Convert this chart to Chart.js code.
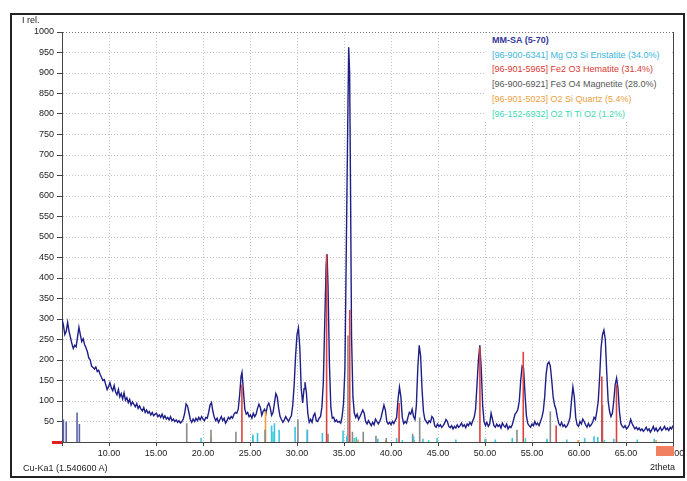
<!DOCTYPE html>
<html>
<head>
<meta charset="utf-8">
<script src="https://cdn.jsdelivr.net/npm/chart.js@4"></script>
<style>
  body { margin: 0; background: #fff; font-family: "Liberation Sans", Arial, sans-serif; }
  #wrap { position: relative; width: 687px; height: 481px; }
  #frame { position: absolute; left: 10px; top: 13px; width: 671px; height: 461px; border: 2px solid #222; }
  canvas { position: absolute; left: 0; top: 0; }
  .lbl { position: absolute; font-size: 9px; color: #222; white-space: nowrap; line-height: 10px; }
  #legend { position: absolute; left: 484px; top: 33px; width: 186px; height: 88px; background: #fff; }
  #legend div { position: absolute; left: 8px; font-size: 9px; line-height: 10px; white-space: nowrap; }
</style>
</head>
<body>
<div id="wrap">
  <div id="frame"></div>
  <canvas id="xrd" width="687" height="481"></canvas>
  <div class="lbl" style="left:22px;top:15px">I rel.</div>
  <div class="lbl" style="left:23px;top:463px">Cu-Ka1 (1.540600 A)</div>
  <div class="lbl" style="left:650px;top:462px">2theta</div>
  <div id="legend"></div>
</div>
<script>
// measured pattern MM-SA, [2theta, counts]
var pattern = [
 [5.00,300],[5.15,285],[5.30,262],[5.45,270],[5.60,292],[5.75,270],[5.90,255],[6.05,240],[6.20,228],[6.35,236],
 [6.50,232],[6.65,255],[6.80,280],[6.95,262],[7.10,245],[7.25,252],[7.40,238],[7.55,230],[7.70,220],[7.85,205],
 [8.00,200],[8.15,185],[8.30,182],[8.45,178],[8.60,183],[8.75,172],[8.90,175],[9.05,165],[9.20,158],[9.35,150],
 [9.50,152],[9.65,140],[9.80,128],[9.95,135],[10.10,145],[10.25,132],[10.40,125],[10.55,138],[10.70,122],[10.85,115],
 [11.00,128],[11.15,110],[11.30,118],[11.45,105],[11.60,120],[11.75,102],[11.90,108],[12.05,96],[12.20,104],[12.35,90],
 [12.50,98],[12.65,92],[12.80,86],[12.95,94],[13.10,82],[13.25,88],[13.40,80],[13.55,76],[13.70,84],[13.85,72],
 [14.00,78],[14.15,70],[14.30,74],[14.45,66],[14.60,72],[14.75,64],[14.90,68],[15.05,70],[15.20,62],[15.35,66],
 [15.50,60],[15.65,68],[15.80,58],[15.95,64],[16.10,56],[16.25,60],[16.40,54],[16.55,62],[16.70,52],[16.85,56],
 [17.00,50],[17.15,54],[17.30,48],[17.45,52],[17.60,46],[17.75,50],[17.90,56],[18.05,70],[18.20,93],[18.35,88],
 [18.50,72],[18.65,55],[18.80,48],[18.95,56],[19.10,50],[19.25,58],[19.40,52],[19.55,60],[19.70,54],[19.85,62],
 [20.00,56],[20.15,52],[20.30,60],[20.45,58],[20.60,72],[20.75,90],[20.90,96],[21.05,75],[21.20,60],[21.35,52],
 [21.50,58],[21.65,48],[21.80,55],[21.95,62],[22.10,52],[22.25,58],[22.40,46],[22.55,52],[22.70,60],[22.85,56],
 [23.00,62],[23.15,58],[23.30,68],[23.45,72],[23.60,70],[23.75,80],[23.90,115],[24.05,160],[24.15,170],[24.30,125],
 [24.45,80],[24.60,68],[24.75,72],[24.90,62],[25.05,66],[25.20,58],[25.35,70],[25.50,62],[25.65,68],[25.80,82],
 [25.95,92],[26.10,84],[26.25,65],[26.40,75],[26.55,80],[26.70,70],[26.85,88],[27.00,95],[27.15,84],[27.30,65],
 [27.45,72],[27.60,95],[27.75,118],[27.90,110],[28.05,82],[28.20,62],[28.35,55],[28.50,48],[28.65,54],[28.80,62],
 [28.95,56],[29.10,50],[29.25,58],[29.40,64],[29.55,90],[29.70,140],[29.85,210],[30.00,262],[30.15,278],[30.30,230],
 [30.45,130],[30.60,95],[30.75,130],[30.85,146],[31.00,120],[31.15,70],[31.30,48],[31.45,55],[31.60,48],[31.75,64],
 [31.90,70],[32.05,52],[32.20,50],[32.35,58],[32.50,62],[32.65,85],[32.80,145],[32.95,290],[33.10,430],[33.20,458],
 [33.30,380],[33.45,190],[33.60,85],[33.75,58],[33.90,60],[34.05,50],[34.20,54],[34.35,48],[34.50,50],[34.65,46],
 [34.80,62],[34.95,95],[35.10,180],[35.25,480],[35.40,780],[35.50,963],[35.60,900],[35.70,600],[35.80,260],[35.95,110],
 [36.10,70],[36.25,60],[36.40,68],[36.55,55],[36.70,62],[36.85,70],[37.00,78],[37.15,70],[37.30,50],[37.45,44],
 [37.60,52],[37.75,46],[37.90,40],[38.05,48],[38.20,42],[38.35,56],[38.50,50],[38.65,44],[38.80,50],[38.95,60],
 [39.10,75],[39.25,90],[39.40,78],[39.55,50],[39.70,44],[39.85,48],[40.00,42],[40.15,50],[40.30,45],[40.45,52],
 [40.60,60],[40.75,105],[40.90,134],[41.05,110],[41.20,60],[41.35,45],[41.50,50],[41.65,46],[41.80,60],[41.95,72],
 [42.10,68],[42.25,80],[42.40,62],[42.55,55],[42.70,90],[42.85,180],[43.00,236],[43.15,210],[43.30,130],[43.45,75],
 [43.60,55],[43.75,50],[43.90,45],[44.05,52],[44.20,48],[44.35,62],[44.50,58],[44.65,40],[44.80,36],[44.95,44],
 [45.10,38],[45.25,42],[45.40,36],[45.55,40],[45.70,46],[45.85,55],[46.00,50],[46.15,38],[46.30,35],[46.45,40],
 [46.60,32],[46.75,38],[46.90,34],[47.05,42],[47.20,36],[47.35,40],[47.50,46],[47.65,38],[47.80,42],[47.95,35],
 [48.10,44],[48.25,40],[48.40,48],[48.55,42],[48.70,52],[48.85,60],[49.00,80],[49.15,140],[49.30,200],[49.45,236],
 [49.60,180],[49.75,90],[49.90,50],[50.05,40],[50.20,48],[50.35,38],[50.50,44],[50.65,70],[50.80,55],[50.95,40],
 [51.10,36],[51.25,44],[51.40,38],[51.55,42],[51.70,34],[51.85,46],[52.00,40],[52.15,36],[52.30,44],[52.45,32],
 [52.60,38],[52.75,35],[52.90,42],[53.05,55],[53.20,68],[53.35,72],[53.50,80],[53.65,100],[53.80,150],[53.95,185],
 [54.10,180],[54.25,120],[54.40,65],[54.55,45],[54.70,40],[54.85,36],[55.00,44],[55.15,40],[55.30,50],[55.45,42],
 [55.60,46],[55.75,40],[55.90,50],[56.05,60],[56.20,75],[56.35,110],[56.50,165],[56.65,190],[56.80,195],[56.95,185],
 [57.10,150],[57.25,110],[57.40,90],[57.55,80],[57.70,60],[57.85,45],[58.00,40],[58.15,48],[58.30,38],[58.45,42],
 [58.60,36],[58.75,40],[58.90,48],[59.05,60],[59.20,100],[59.35,134],[59.50,110],[59.65,60],[59.80,42],[59.95,38],
 [60.10,50],[60.25,44],[60.40,56],[60.55,50],[60.70,42],[60.85,36],[61.00,45],[61.15,38],[61.30,42],[61.45,48],
 [61.60,60],[61.75,55],[61.90,75],[62.05,100],[62.20,160],[62.35,230],[62.50,262],[62.65,273],[62.80,250],[62.95,170],
 [63.10,100],[63.25,75],[63.40,62],[63.55,70],[63.70,100],[63.85,140],[64.00,156],[64.15,130],[64.30,75],[64.45,45],
 [64.60,38],[64.75,35],[64.90,40],[65.05,32],[65.20,36],[65.35,42],[65.50,55],[65.65,45],[65.80,38],[65.95,32],
 [66.10,36],[66.25,30],[66.40,34],[66.55,28],[66.70,32],[66.85,26],[67.00,30],[67.15,36],[67.30,28],[67.45,32],
 [67.60,24],[67.75,30],[67.90,38],[68.05,28],[68.20,34],[68.35,26],[68.50,30],[68.65,36],[68.80,28],[68.95,32],
 [69.10,38],[69.25,30],[69.40,34],[69.55,28],[69.70,36],[69.85,32],[70.00,40]
];

// reference phase sticks: positions (2theta) and heights
var enstatitePos = [19.8, 25.3, 25.8, 27.3, 27.6, 28.1, 29.8, 31.1, 32.7, 34.9, 35.3, 36.3, 38.6, 40.6, 42.4, 43.4, 44.9, 46.9, 50.0, 51.1, 52.9, 56.6, 58.7, 60.6, 61.6, 62.0, 63.7, 66.2, 68.0];
var enstatiteInt = [10, 18, 22, 40, 46, 30, 37, 30, 22, 28, 15, 12, 8, 10, 14, 8, 10, 6, 8, 6, 10, 8, 6, 10, 14, 12, 8, 6, 8];
var hematitePos = [24.14, 33.15, 35.61, 40.86, 49.46, 54.07, 57.57, 62.43, 63.99];
var hematiteInt = [140, 458, 322, 95, 231, 220, 40, 160, 140];
var magnetitePos = [18.27, 20.85, 23.5, 26.6, 30.1, 31.1, 33.3, 35.42, 35.9, 37.05, 38.4, 39.5, 42.3, 43.05, 53.4, 56.95, 62.5];
var magnetiteInt = [46, 30, 25, 30, 55, 30, 20, 260, 25, 25, 15, 10, 20, 60, 30, 75, 90];
var quartzPos = [20.85, 26.65, 36.5, 39.45, 42.45, 50.1, 59.9, 68.2];
var quartzInt = [12, 75, 6, 5, 5, 8, 5, 5];
var tio2Pos = [25.3, 27.45, 36.1, 41.2, 44.0, 54.3, 56.6, 62.7];
var tio2Int = [15, 25, 10, 5, 5, 10, 5, 5];
var lowPos = [5.15, 5.45, 6.6, 6.85];
var lowInt = [55, 50, 72, 44];

var legendNames = ["MM-SA (5-70)", "[96-900-6341] Mg O3 Si Enstatite (34.0%)", "[96-901-5965] Fe2 O3 Hematite (31.4%)",
  "[96-900-6921] Fe3 O4 Magnetite (28.0%)", "[96-901-5023] O2 Si Quartz (5.4%)", "[96-152-6932] O2 Ti Ti O2 (1.2%)"];
var legendColors = ["#35359a", "#3cb6dc", "#d83a36", "#555555", "#eba040", "#3ed8b4"];

function sticks(pos, hts) {
  var pts = [];
  pos.forEach(function (p, i) {
    pts.push({x: p, y: 0}, {x: p, y: hts[i]}, {x: p, y: null});
  });
  return pts;
}

function stickSet(label, pos, hts, color) {
  return {label: label, data: sticks(pos, hts), borderColor: color, borderWidth: 1.6,
    pointRadius: 0, tension: 0, spanGaps: false, order: 0};
}

var leg = document.getElementById('legend');
legendNames.forEach(function (n, i) {
  var d = document.createElement('div');
  d.textContent = n;
  d.style.top = (2 + i * 14.7) + 'px';
  d.style.color = legendColors[i];
  if (i === 0) d.style.fontWeight = 'bold';
  leg.appendChild(d);
});

var font = {family: '"Liberation Sans", Arial, sans-serif', size: 9};

var extras = {
  id: 'extras',
  afterDraw: function (chart) {
    var c = chart.ctx, a = chart.chartArea;
    c.save();
    c.strokeStyle = '#444';
    c.lineWidth = 1;
    c.beginPath();
    c.moveTo(a.right + 0.5, a.top);
    c.lineTo(a.right + 0.5, a.bottom);
    c.stroke();
    // range markers
    c.fillStyle = '#e02020';
    c.fillRect(a.left - 10, a.bottom - 1, 10, 3);
    c.fillStyle = '#f08060';
    c.fillRect(a.right - 17, a.bottom + 4, 18, 10);
    c.restore();
  }
};

new Chart(document.getElementById('xrd'), {
  type: 'line',
  data: {
    datasets: [
      {label: legendNames[0], data: pattern.map(function (p) { return {x: p[0], y: p[1]}; }),
        borderColor: '#1e1e88', borderWidth: 1.4, pointRadius: 0, tension: 0, order: 1},
      stickSet(legendNames[1], enstatitePos, enstatiteInt, '#3cc4e4'),
      stickSet(legendNames[2], hematitePos, hematiteInt, '#e0403c'),
      stickSet(legendNames[3], magnetitePos, magnetiteInt, '#8a8a8a'),
      stickSet(legendNames[4], quartzPos, quartzInt, '#f0a040'),
      stickSet(legendNames[5], tio2Pos, tio2Int, '#40e0c0'),
      stickSet('', lowPos, lowInt, '#5a64a8')
    ]
  },
  options: {
    responsive: false,
    animation: false,
    layout: {padding: {top: 32, right: 14, left: 0, bottom: 0}},
    plugins: {legend: {display: false}, tooltip: {enabled: false}},
    scales: {
      x: {
        type: 'linear', min: 5, max: 70,
        afterFit: function (s) { s.height = 39; },
        ticks: {stepSize: 5, autoSkip: false, maxRotation: 0, padding: 2, font: font, color: '#222',
          callback: function (v) { return v === 5 ? '' : v.toFixed(2); }},
        grid: {color: '#c4c4c4', tickLength: 4, tickColor: '#444'},
        border: {color: '#444', dash: [1, 2]}
      },
      y: {
        min: 0, max: 1000,
        afterFit: function (s) { s.width = 62; },
        ticks: {stepSize: 50, autoSkip: false, padding: 3, font: font, color: '#222',
          callback: function (v) { return v === 0 ? '' : v; }},
        grid: {color: function (c) { return c.tick && c.tick.value === 1000 ? '#777' : '#c4c4c4'; },
          tickLength: 5, tickColor: '#444'},
        border: {color: '#444', dash: [1, 2]}
      }
    }
  },
  plugins: [extras]
});
</script>
</body>
</html>
